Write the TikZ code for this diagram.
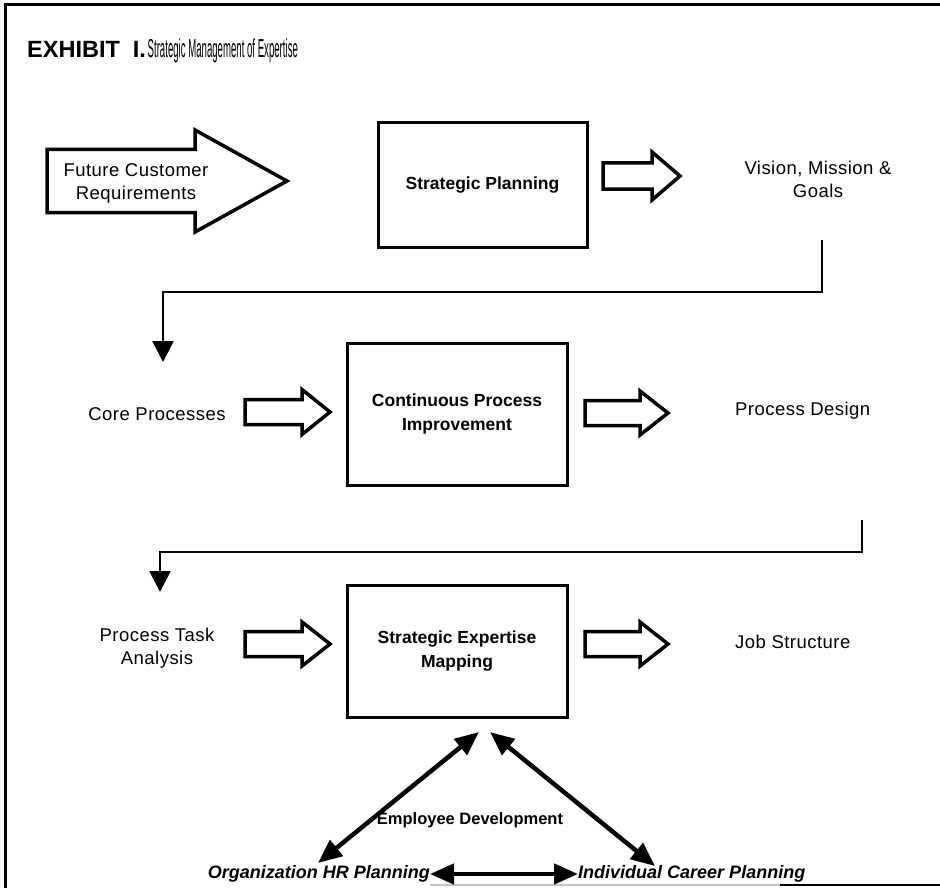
\documentclass[tikz,border=0pt]{standalone}
\usepackage{fontspec}
\setmainfont{Liberation Sans}
\newfontfamily\lblfont[LetterSpace=2.5]{Liberation Sans}
\newfontfamily\ttlfont[FakeStretch=0.37]{Liberation Sans}
\newfontfamily\ttlbold[FakeStretch=1.0]{Liberation Sans}
\usetikzlibrary{arrows.meta}
\tikzset{
  bx/.style={draw, line width=3pt, inner sep=0pt},
  boxtxt/.style={font=\bfseries\fontsize{17.5}{24}\selectfont, align=center, inner sep=0pt},
  lbl/.style={font=\lblfont\fontsize{18.5}{23}\selectfont, align=center, inner sep=0pt},
  botlbl/.style={font=\bfseries\itshape\fontsize{18}{22}\selectfont, inner sep=0pt},
  blk/.style={draw, line width=3.5pt, line join=miter, fill=white},
  conn/.style={line width=2.5pt, -{Triangle[length=21pt,width=21pt]}},
  dbl/.style={line width=4.5pt, {Triangle[length=24pt,width=20pt]}-{Triangle[length=24pt,width=20pt]}},
}
\newcommand\blockarrow[6]{%
  \draw[blk] (#1,#2-#3) -- (#4,#2-#3) -- (#4,#2-#5) -- (#6,#2) -- (#4,#2+#5) -- (#4,#2+#3) -- (#1,#2+#3) -- cycle;}
\begin{document}
\begin{tikzpicture}[x=1pt,y=-1pt]
\useasboundingbox (0,0) rectangle (940,888);
% frame
\draw[line width=3pt] (940,5) -- (5,5) -- (5,888);
\draw[line width=2pt, gray!45] (430,885) -- (780,885);
\draw[line width=2.5pt] (780,885) -- (940,885);
% title
\node[anchor=base west, inner sep=0pt] (ttl) at (27,58)
  {{\ttlbold\bfseries\fontsize{23.5}{26}\selectfont EXHIBIT\ \ I.}\,{\ttlfont\fontsize{26}{28}\selectfont Strategic Management of Expertise}};
% row 1
\blockarrow{47}{181}{31.5}{195}{51}{287}
\node[lbl] (fcr) at (136,183) {Future Customer\\Requirements};
\node[bx, minimum width=209pt, minimum height=124pt, boxtxt] (sp) at (482.5,185) {Strategic Planning};
\blockarrow{603}{176}{13}{652}{24}{680}
\node[lbl] (vmg) at (818,179) {Vision, Mission \&\\Goals};
\coordinate (c1a) at (822,240);
\coordinate (c1b) at (822,292);
\coordinate (c1c) at (163,292);
\coordinate (c1d) at (163,362);
\draw[conn] (c1a) -- (c1b) -- (c1c) -- (c1d);
% row 2
\node[lbl] (cp) at (157,414) {Core Processes};
\blockarrow{245}{412}{12.5}{302}{22.5}{330}
\node[bx, minimum width=220pt, minimum height=142pt, boxtxt] (cpi) at (457,414) {Continuous Process\\Improvement};
\blockarrow{585}{413}{12.5}{640}{22}{668}
\node[lbl, anchor=west] (pd) at (735,411) {Process Design};
\coordinate (c2a) at (862,520);
\coordinate (c2b) at (862,552);
\coordinate (c2c) at (160,552);
\coordinate (c2d) at (160,592);
\draw[conn] (c2a) -- (c2b) -- (c2c) -- (c2d);
% row 3
\node[lbl] (pta) at (157,648) {Process Task\\Analysis};
\blockarrow{245}{644}{12.5}{302}{22}{330}
\node[bx, minimum width=220pt, minimum height=132pt, boxtxt] (sem) at (457,651) {Strategic Expertise\\Mapping};
\blockarrow{585}{644}{12.5}{640}{22}{668}
\node[lbl, anchor=west] (js) at (735,642) {Job Structure};
% bottom
\node[font=\bfseries\fontsize{16.5}{20}\selectfont, inner sep=0pt] (ed) at (470,820) {Employee Development};
\node[botlbl, anchor=east] (org) at (430,874) {Organization HR Planning};
\node[botlbl, anchor=west] (icp) at (578,874) {Individual Career Planning};
\coordinate (tl) at (479,732);
\coordinate (bl) at (318,863);
\coordinate (tr) at (490,732);
\coordinate (br) at (655,866);
\draw[dbl] (tl) -- (bl);
\draw[dbl] (tr) -- (br);
\draw[dbl] (org.east) -- (icp.west);
\end{tikzpicture}
\end{document}
